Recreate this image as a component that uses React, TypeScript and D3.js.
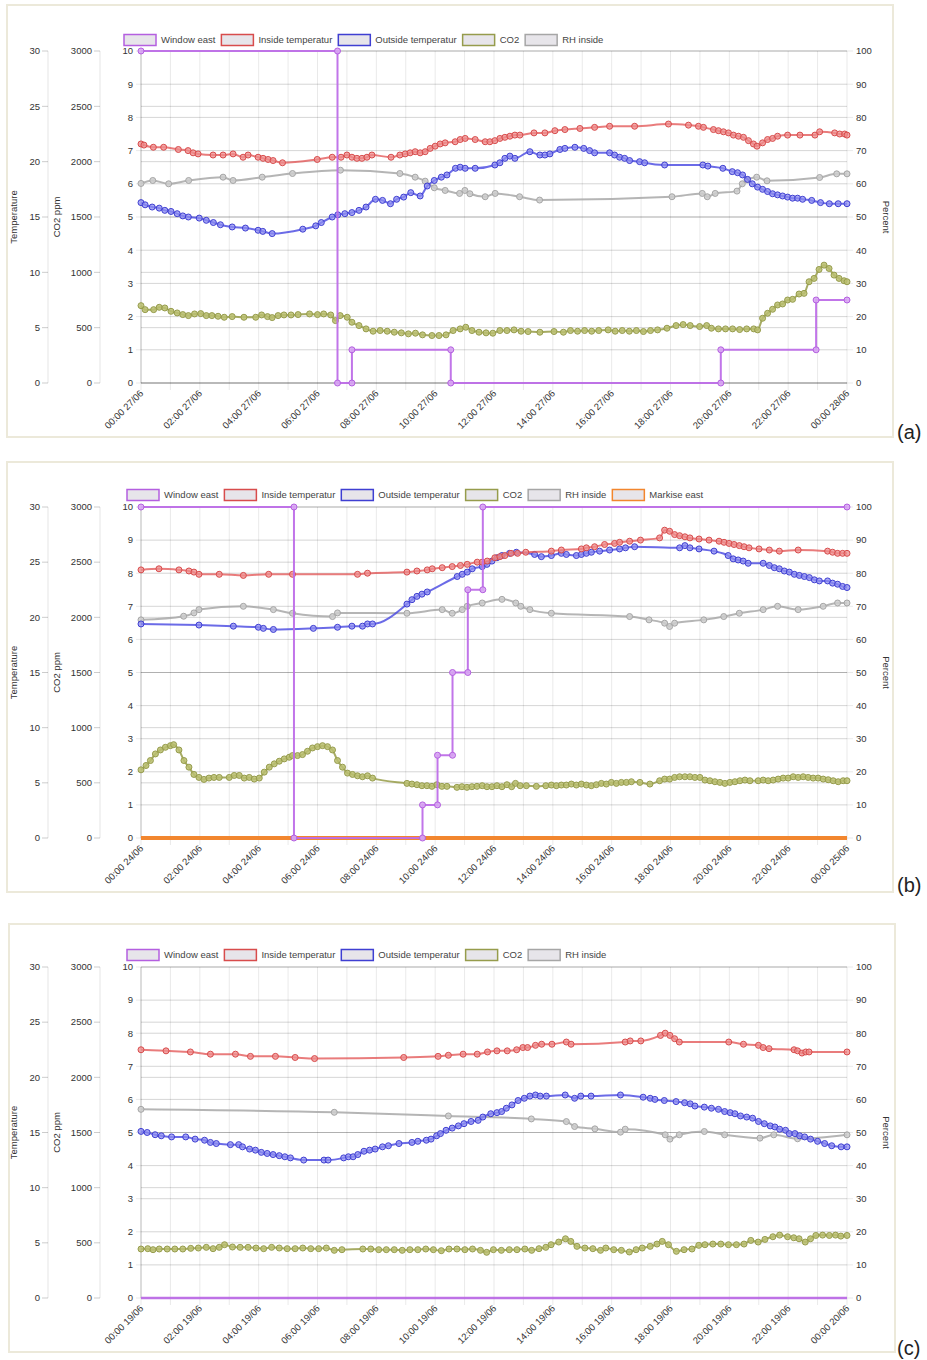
import React from 'react';
import * as d3 from 'd3';

type Pt = [number, number]; // [hour of day, value]

// ---------- (a) 27/06 ----------
const windowA: Pt[] = [[0, 100], [6.68, 100], [6.68, 0], [7.17, 0], [7.17, 10], [10.53, 10], [10.53, 0], [19.71, 0], [19.71, 10], [22.95, 10], [22.95, 25], [24, 25]];
const insideA: Pt[] = [[0, 21.6], [0.1, 21.5], [0.42, 21.3], [0.77, 21.3], [1.27, 21.1], [1.6, 21.0], [1.77, 20.8], [1.94, 20.7], [2.45, 20.6], [2.79, 20.6], [3.13, 20.7], [3.47, 20.4], [3.64, 20.6], [3.98, 20.4], [4.15, 20.3], [4.32, 20.2], [4.49, 20.1], [4.81, 19.9], [5.99, 20.2], [6.5, 20.4], [6.8, 20.4], [7.0, 20.6], [7.17, 20.4], [7.34, 20.3], [7.51, 20.3], [7.68, 20.4], [7.85, 20.6], [8.5, 20.4], [8.8, 20.6], [8.98, 20.7], [9.15, 20.8], [9.32, 20.9], [9.49, 20.8], [9.66, 20.9], [9.83, 21.2], [10.0, 21.4], [10.17, 21.6], [10.34, 21.7], [10.68, 21.8], [10.85, 22.0], [11.02, 22.1], [11.36, 22.0], [11.7, 21.8], [11.86, 21.8], [12.03, 21.9], [12.2, 22.1], [12.37, 22.2], [12.54, 22.3], [12.71, 22.4], [12.88, 22.4], [13.36, 22.6], [13.73, 22.6], [14.07, 22.8], [14.41, 22.9], [14.92, 23.0], [15.42, 23.1], [15.93, 23.2], [16.78, 23.2], [17.93, 23.4], [18.61, 23.3], [18.95, 23.2], [19.12, 23.1], [19.46, 22.9], [19.63, 22.8], [19.8, 22.7], [19.97, 22.6], [20.14, 22.4], [20.31, 22.3], [20.48, 22.2], [20.65, 21.9], [20.82, 21.6], [20.94, 21.4], [21.13, 21.7], [21.3, 22.0], [21.47, 22.1], [21.64, 22.3], [21.98, 22.4], [22.4, 22.4], [22.91, 22.4], [23.07, 22.7], [23.58, 22.6], [23.75, 22.5], [23.92, 22.5], [24, 22.4]];
const outsideA: Pt[] = [[0, 16.3], [0.14, 16.1], [0.38, 15.9], [0.62, 15.8], [0.81, 15.6], [1.02, 15.5], [1.23, 15.3], [1.42, 15.1], [1.61, 15.0], [1.98, 14.9], [2.22, 14.7], [2.46, 14.5], [2.7, 14.3], [3.1, 14.1], [3.55, 14.0], [3.98, 13.8], [4.14, 13.7], [4.46, 13.5], [5.5, 13.9], [5.94, 14.2], [6.13, 14.5], [6.5, 15.0], [6.69, 15.2], [6.93, 15.3], [7.17, 15.4], [7.41, 15.6], [7.65, 15.9], [7.97, 16.6], [8.21, 16.5], [8.48, 16.2], [8.69, 16.6], [8.93, 16.8], [9.17, 17.2], [9.49, 16.9], [9.73, 17.8], [9.97, 18.3], [10.21, 18.6], [10.4, 18.8], [10.69, 19.4], [10.85, 19.5], [11.02, 19.4], [11.36, 19.4], [12.03, 19.7], [12.2, 19.9], [12.37, 20.3], [12.54, 20.5], [12.71, 20.3], [13.22, 20.9], [13.56, 20.6], [13.73, 20.6], [13.9, 20.7], [14.24, 21.1], [14.41, 21.2], [14.75, 21.3], [15.05, 21.2], [15.25, 21.0], [15.42, 20.8], [15.93, 20.8], [16.1, 20.6], [16.27, 20.4], [16.44, 20.3], [16.61, 20.1], [16.95, 20.0], [17.12, 19.9], [17.8, 19.7], [19.1, 19.7], [19.27, 19.6], [19.78, 19.4], [20.1, 19.1], [20.28, 19.0], [20.45, 18.8], [20.62, 18.4], [20.78, 18.0], [20.96, 17.7], [21.13, 17.5], [21.3, 17.3], [21.47, 17.1], [21.64, 17.0], [21.81, 16.9], [21.98, 16.8], [22.15, 16.7], [22.32, 16.7], [22.49, 16.6], [22.8, 16.5], [23.1, 16.3], [23.4, 16.2], [23.7, 16.2], [24, 16.2]];
const co2A: Pt[] = [[0, 699], [0.14, 663], [0.43, 663], [0.62, 684], [0.81, 678], [1.02, 648], [1.23, 633], [1.42, 618], [1.61, 609], [1.82, 624], [2.03, 627], [2.22, 609], [2.41, 609], [2.62, 603], [2.83, 594], [3.1, 600], [3.5, 594], [3.9, 594], [4.1, 615], [4.3, 600], [4.46, 591], [4.66, 609], [4.86, 615], [5.1, 615], [5.34, 618], [5.73, 624], [6.0, 618], [6.21, 624], [6.45, 615], [6.61, 564], [6.77, 609], [7.01, 594], [7.17, 549], [7.41, 519], [7.65, 489], [7.89, 468], [8.13, 474], [8.37, 468], [8.61, 459], [8.85, 453], [9.09, 444], [9.33, 450], [9.57, 435], [9.89, 429], [10.13, 429], [10.37, 435], [10.61, 474], [10.85, 489], [11.04, 504], [11.25, 474], [11.49, 459], [11.73, 453], [11.96, 450], [12.2, 474], [12.44, 474], [12.68, 480], [12.92, 468], [13.16, 465], [13.56, 459], [14.04, 465], [14.36, 459], [14.6, 474], [14.84, 468], [15.08, 474], [15.32, 468], [15.56, 474], [15.88, 480], [16.12, 468], [16.36, 474], [16.6, 468], [16.84, 474], [17.08, 465], [17.32, 474], [17.56, 480], [17.88, 495], [18.19, 519], [18.43, 528], [18.67, 519], [18.99, 510], [19.23, 519], [19.39, 495], [19.63, 489], [19.87, 489], [20.11, 489], [20.35, 483], [20.59, 489], [20.83, 489], [20.96, 480], [21.13, 585], [21.3, 630], [21.47, 666], [21.64, 705], [21.81, 714], [21.98, 750], [22.15, 756], [22.37, 804], [22.54, 810], [22.71, 915], [22.88, 945], [23.05, 1026], [23.22, 1065], [23.39, 1035], [23.56, 975], [23.73, 945], [23.9, 924], [24, 915]];
const rhA: Pt[] = [[0, 60.1], [0.4, 61.0], [0.94, 60.0], [1.62, 61.0], [2.79, 62.0], [3.13, 61.0], [4.12, 62.0], [5.15, 63.1], [6.78, 64.1], [8.8, 63.1], [9.32, 62.0], [9.66, 60.8], [9.97, 58.8], [10.34, 58.0], [10.83, 57.1], [11.01, 58.0], [11.18, 57.0], [11.7, 56.1], [12.04, 57.1], [12.87, 56.1], [13.55, 55.1], [18.05, 56.1], [19.08, 57.1], [19.25, 56.1], [19.52, 57.1], [20.26, 57.8], [20.44, 60.0], [20.6, 61.2], [20.93, 62.0], [21.28, 60.9], [23.07, 61.9], [23.65, 63.0], [24, 63.0]];

// ---------- (b) 24/06 ----------
const windowB: Pt[] = [[0, 100], [5.2, 100], [5.2, 0], [9.57, 0], [9.57, 10], [10.08, 10], [10.08, 25], [10.59, 25], [10.59, 50], [11.11, 50], [11.11, 75], [11.62, 75], [11.62, 100], [24, 100]];
const insideB: Pt[] = [[0, 24.3], [0.61, 24.4], [1.29, 24.3], [1.63, 24.2], [1.8, 24.1], [1.97, 23.9], [2.66, 23.9], [3.48, 23.8], [4.34, 23.9], [5.15, 23.9], [7.36, 23.9], [7.7, 24.0], [9.04, 24.1], [9.38, 24.2], [9.73, 24.3], [9.9, 24.4], [10.24, 24.5], [10.58, 24.6], [10.86, 24.7], [11.09, 24.8], [11.43, 25.0], [11.6, 25.0], [11.77, 25.1], [12.03, 25.4], [12.2, 25.5], [12.37, 25.6], [12.58, 25.8], [12.8, 25.8], [13.08, 25.9], [13.95, 26.0], [14.29, 26.1], [14.97, 26.2], [15.14, 26.3], [15.42, 26.4], [15.76, 26.6], [16.1, 26.7], [16.27, 26.8], [16.61, 26.9], [16.98, 27.0], [17.63, 27.2], [17.8, 27.9], [17.97, 27.8], [18.14, 27.5], [18.31, 27.4], [18.49, 27.3], [18.66, 27.2], [18.97, 27.1], [19.31, 27.0], [19.65, 26.9], [19.82, 26.8], [19.99, 26.7], [20.16, 26.6], [20.34, 26.5], [20.5, 26.4], [20.67, 26.3], [21.01, 26.2], [21.36, 26.1], [21.7, 26.0], [22.34, 26.1], [23.34, 26.0], [23.51, 25.9], [23.68, 25.8], [23.85, 25.8], [24, 25.8]];
const outsideB: Pt[] = [[0, 19.4], [1.97, 19.3], [3.14, 19.2], [3.99, 19.1], [4.16, 19.0], [4.5, 18.9], [5.86, 19.0], [6.68, 19.1], [7.17, 19.2], [7.53, 19.2], [7.7, 19.4], [7.87, 19.4], [9.04, 21.2], [9.21, 21.6], [9.38, 21.9], [9.55, 22.1], [9.73, 22.3], [10.75, 23.7], [10.92, 23.9], [11.09, 24.1], [11.26, 24.4], [11.6, 24.6], [11.76, 24.8], [11.93, 25.1], [12.1, 25.4], [12.27, 25.6], [12.53, 25.8], [12.76, 25.9], [13.38, 25.7], [13.61, 25.5], [13.95, 25.6], [14.29, 25.8], [14.46, 25.7], [14.8, 25.6], [14.97, 25.7], [15.14, 25.8], [15.31, 25.9], [15.59, 26.0], [15.93, 26.1], [16.27, 26.2], [16.47, 26.3], [16.78, 26.4], [18.31, 26.3], [18.49, 26.5], [18.66, 26.3], [18.97, 26.2], [19.48, 26.0], [19.96, 25.6], [20.13, 25.3], [20.3, 25.2], [20.47, 25.1], [20.64, 24.9], [21.15, 24.9], [21.36, 24.7], [21.53, 24.5], [21.7, 24.4], [21.87, 24.2], [22.04, 24.1], [22.21, 23.9], [22.38, 23.8], [22.55, 23.7], [22.72, 23.6], [22.89, 23.4], [23.06, 23.3], [23.34, 23.3], [23.51, 23.1], [23.68, 23.0], [23.85, 22.8], [24, 22.7]];
const co2B: Pt[] = [[0, 618], [0.17, 657], [0.32, 702], [0.49, 762], [0.66, 798], [0.83, 822], [1.0, 837], [1.11, 846], [1.29, 798], [1.46, 702], [1.63, 642], [1.8, 576], [1.97, 549], [2.14, 531], [2.31, 543], [2.48, 549], [2.66, 549], [3.0, 549], [3.17, 567], [3.34, 567], [3.51, 543], [3.68, 549], [3.85, 534], [4.02, 543], [4.19, 597], [4.36, 642], [4.53, 672], [4.7, 696], [4.87, 717], [5.04, 732], [5.15, 747], [5.32, 747], [5.49, 756], [5.66, 786], [5.83, 816], [6.0, 828], [6.17, 837], [6.34, 828], [6.51, 798], [6.68, 702], [6.85, 642], [7.02, 588], [7.19, 576], [7.36, 564], [7.53, 555], [7.7, 564], [7.87, 543], [9.04, 495], [9.21, 489], [9.38, 483], [9.55, 474], [9.72, 474], [9.89, 468], [10.06, 483], [10.23, 468], [10.4, 468], [10.74, 459], [10.91, 465], [11.08, 459], [11.25, 465], [11.42, 468], [11.6, 474], [11.76, 465], [11.93, 465], [12.1, 474], [12.27, 465], [12.44, 483], [12.6, 465], [12.73, 495], [12.89, 474], [13.1, 474], [13.44, 468], [13.76, 474], [13.95, 480], [14.12, 474], [14.29, 480], [14.46, 480], [14.63, 489], [14.8, 480], [14.97, 489], [15.14, 480], [15.31, 474], [15.48, 483], [15.65, 495], [15.82, 489], [15.99, 504], [16.16, 495], [16.33, 504], [16.5, 504], [16.67, 510], [16.96, 504], [17.3, 489], [17.63, 519], [17.8, 534], [17.97, 534], [18.14, 549], [18.31, 555], [18.49, 555], [18.66, 555], [18.83, 549], [19.0, 549], [19.17, 525], [19.34, 519], [19.51, 510], [19.68, 504], [19.85, 495], [20.02, 504], [20.19, 510], [20.36, 519], [20.53, 525], [20.7, 519], [20.98, 519], [21.15, 525], [21.32, 519], [21.49, 525], [21.66, 534], [21.83, 543], [22.0, 543], [22.17, 555], [22.34, 549], [22.51, 555], [22.68, 549], [22.85, 543], [23.02, 543], [23.19, 534], [23.36, 528], [23.53, 519], [23.7, 510], [23.87, 519], [24, 519]];
const rhB: Pt[] = [[0, 65.9], [1.45, 67.0], [1.8, 68.0], [1.97, 69.0], [3.48, 70.0], [4.5, 69.0], [5.15, 67.9], [6.51, 66.9], [6.68, 68.0], [9.04, 67.9], [10.24, 69.0], [10.58, 67.9], [10.92, 69.0], [11.09, 70.0], [11.6, 71.0], [12.27, 72.1], [12.74, 71.0], [12.91, 70.0], [13.22, 69.0], [13.95, 67.9], [16.61, 66.9], [17.27, 65.9], [17.8, 64.9], [17.97, 63.9], [18.14, 64.9], [19.13, 65.9], [19.81, 66.9], [20.34, 67.9], [21.15, 69.0], [21.64, 70.0], [22.34, 69.0], [23.19, 70.0], [23.68, 71.0], [24, 71.0]];
const markiseB: Pt[] = [[0, 0], [24, 0]];

// ---------- (c) 19/06 ----------
const windowC: Pt[] = [[0, 0], [24, 0]];
const insideC: Pt[] = [[0, 22.5], [0.85, 22.4], [1.68, 22.3], [2.36, 22.1], [3.21, 22.1], [3.72, 21.9], [4.57, 21.9], [5.24, 21.8], [5.9, 21.7], [8.93, 21.8], [10.1, 21.9], [10.45, 22.0], [10.95, 22.1], [11.43, 22.1], [11.78, 22.3], [12.1, 22.4], [12.45, 22.4], [12.77, 22.5], [12.98, 22.7], [13.14, 22.7], [13.41, 22.9], [13.62, 23.0], [13.97, 23.0], [14.46, 23.2], [14.62, 23.0], [16.46, 23.2], [16.63, 23.3], [16.99, 23.3], [17.66, 23.8], [17.82, 24.0], [17.98, 23.8], [18.14, 23.5], [18.3, 23.2], [19.98, 23.2], [20.48, 23.0], [20.99, 22.9], [21.15, 22.7], [21.35, 22.6], [22.2, 22.5], [22.32, 22.4], [22.47, 22.2], [22.6, 22.3], [22.71, 22.3], [24, 22.3]];
const outsideC: Pt[] = [[0, 15.1], [0.21, 15.0], [0.48, 14.8], [0.69, 14.7], [1.04, 14.6], [1.52, 14.6], [1.84, 14.4], [2.16, 14.3], [2.36, 14.1], [2.56, 14.0], [3.04, 13.9], [3.32, 13.9], [3.45, 13.7], [3.69, 13.5], [3.89, 13.4], [4.09, 13.2], [4.29, 13.1], [4.49, 13.0], [4.7, 12.9], [4.89, 12.8], [5.08, 12.7], [5.53, 12.5], [6.22, 12.5], [6.36, 12.5], [6.89, 12.7], [7.05, 12.8], [7.21, 12.8], [7.37, 13.0], [7.58, 13.3], [7.77, 13.4], [7.96, 13.5], [8.21, 13.7], [8.41, 13.8], [8.77, 14.0], [9.21, 14.1], [9.41, 14.2], [9.7, 14.3], [9.86, 14.4], [10.05, 14.7], [10.18, 14.9], [10.37, 15.2], [10.58, 15.4], [10.79, 15.6], [10.98, 15.8], [11.22, 16.0], [11.46, 16.1], [11.62, 16.4], [11.89, 16.7], [12.1, 16.8], [12.26, 16.9], [12.42, 17.2], [12.61, 17.5], [12.82, 17.9], [13.03, 18.1], [13.22, 18.3], [13.41, 18.4], [13.57, 18.3], [13.78, 18.3], [14.42, 18.4], [14.74, 18.1], [14.95, 18.3], [15.3, 18.3], [16.3, 18.4], [17.07, 18.2], [17.31, 18.1], [17.47, 18.0], [17.79, 17.9], [18.19, 17.8], [18.48, 17.7], [18.67, 17.6], [18.83, 17.4], [19.15, 17.3], [19.39, 17.2], [19.63, 17.1], [19.84, 16.9], [20.03, 16.8], [20.19, 16.7], [20.38, 16.5], [20.59, 16.4], [20.79, 16.3], [20.99, 16.0], [21.19, 15.8], [21.39, 15.6], [21.55, 15.5], [21.71, 15.3], [21.91, 15.2], [22.04, 14.9], [22.23, 14.9], [22.39, 14.7], [22.56, 14.6], [22.76, 14.4], [23.0, 14.2], [23.24, 14.0], [23.48, 13.8], [23.8, 13.7], [24, 13.7]];
const co2C: Pt[] = [[0, 444], [0.23, 447], [0.41, 438], [0.62, 444], [0.89, 444], [1.15, 444], [1.42, 444], [1.69, 450], [1.95, 453], [2.22, 459], [2.45, 447], [2.66, 459], [2.84, 483], [3.11, 462], [3.37, 459], [3.64, 459], [3.91, 453], [4.17, 447], [4.44, 459], [4.7, 453], [4.97, 447], [5.24, 447], [5.5, 453], [5.77, 447], [6.04, 447], [6.3, 453], [6.57, 432], [6.83, 438], [7.54, 444], [7.81, 444], [8.08, 438], [8.34, 438], [8.61, 438], [8.88, 432], [9.14, 438], [9.41, 438], [9.68, 444], [9.94, 438], [10.21, 429], [10.47, 444], [10.74, 444], [11.01, 438], [11.27, 444], [11.54, 432], [11.75, 414], [11.98, 438], [12.25, 432], [12.52, 438], [12.78, 438], [13.05, 444], [13.28, 432], [13.53, 447], [13.76, 459], [13.94, 483], [14.2, 507], [14.43, 537], [14.61, 513], [14.82, 468], [15.09, 453], [15.36, 447], [15.62, 432], [15.8, 453], [16.07, 438], [16.33, 432], [16.6, 417], [16.83, 438], [17.04, 453], [17.31, 468], [17.54, 489], [17.72, 513], [17.93, 483], [18.2, 423], [18.46, 438], [18.73, 444], [18.96, 477], [19.17, 483], [19.44, 489], [19.71, 489], [19.97, 483], [20.24, 483], [20.5, 489], [20.73, 522], [20.98, 507], [21.21, 531], [21.48, 555], [21.71, 570], [21.98, 555], [22.19, 546], [22.37, 537], [22.58, 507], [22.76, 537], [22.94, 567], [23.17, 570], [23.4, 567], [23.61, 570], [23.79, 561], [24, 567]];
const rhC: Pt[] = [[0, 57.0], [6.57, 56.1], [10.45, 55.0], [13.27, 54.1], [14.46, 53.3], [14.74, 51.8], [15.43, 51.1], [16.3, 50.1], [16.46, 51.0], [17.82, 49.3], [17.98, 48.0], [18.3, 49.3], [19.15, 50.3], [19.84, 49.3], [21.04, 48.3], [21.51, 49.3], [22.32, 48.1], [24, 49.3]];

// ---------- axes ----------
const tempTicks = [0, 5, 10, 15, 20, 25, 30];
const co2Ticks = [0, 500, 1000, 1500, 2000, 2500, 3000];
const midTicks = [0, 1, 2, 3, 4, 5, 6, 7, 8, 9, 10];
const pctTicks = [0, 10, 20, 30, 40, 50, 60, 70, 80, 90, 100];
const hourTicks = [0, 2, 4, 6, 8, 10, 12, 14, 16, 18, 20, 22, 24];

type AxisKey = 'temp' | 'co2' | 'pct';
interface Series {
  label: string;
  data: Pt[];
  axis: AxisKey;
  line: string;
  dot: string;
  fill: string;
  width: number;
  dots: boolean;
  smooth: boolean;
}

const STYLE = {
  window: { line: 'rgba(190,110,232,0.95)', dot: '#b45fe0', fill: 'rgba(215,165,242,0.9)' },
  inside: { line: 'rgba(225,80,80,0.75)', dot: '#d84c4c', fill: 'rgba(238,140,140,0.75)' },
  outside: { line: 'rgba(70,70,225,0.8)', dot: '#3f3fd2', fill: 'rgba(140,140,240,0.75)' },
  co2: { line: 'rgba(150,156,72,0.85)', dot: '#969c4c', fill: 'rgba(186,190,112,0.85)' },
  rh: { line: 'rgba(168,168,168,0.85)', dot: '#a6a6a6', fill: 'rgba(204,204,204,0.85)' },
  markise: { line: '#f2862e', dot: '#f2862e', fill: '#f2862e' },
};

const mk = (label: string, data: Pt[], axis: AxisKey, key: keyof typeof STYLE, dots = true, smooth = true, width = 2): Series => ({
  label, data, axis, ...STYLE[key], width, dots, smooth,
});

const FONT = '"Liberation Sans", Arial, sans-serif';
const FS = 9.5;

let ctx: CanvasRenderingContext2D | null = null;
const textW = (s: string) => {
  if (!ctx && typeof document !== 'undefined') ctx = document.createElement('canvas').getContext('2d');
  if (!ctx) return s.length * 5;
  ctx.font = `${FS}px ${FONT}`;
  return ctx.measureText(s).width;
};

const X0 = 141;
const X1 = 847;

interface PanelProps {
  box: [number, number, number, number];
  legendX: number;
  legendY: number;
  plotTop: number;
  plotBottom: number;
  tag: string;
  tagY: number;
  day: string;
  nextDay: string;
  series: Series[];
}

const Panel: React.FC<PanelProps> = ({ box, legendX, legendY, plotTop, plotBottom, tag, tagY, day, nextDay, series }) => {
  const x = d3.scaleLinear().domain([0, 24]).range([X0, X1]);
  const yOf = (max: number) => d3.scaleLinear().domain([0, max]).range([plotBottom, plotTop]);
  const yMid = yOf(10);
  const scales: Record<AxisKey, d3.ScaleLinear<number, number>> = { temp: yOf(30), co2: yOf(3000), pct: yOf(100) };
  const cy = (plotTop + plotBottom) / 2;
  const grid = 'rgba(0,0,0,0.085)';
  const hh = d3.format('02d');

  // legend layout
  let lx = legendX;
  const legendItems = series.map((s) => {
    const item = { s, x: lx };
    lx += 32 + 5 + textW(s.label) + 6;
    return item;
  });

  return (
    <g>
      <rect x={box[0]} y={box[1]} width={box[2]} height={box[3]} fill="#fff" stroke="#ece9da" strokeWidth={2} />

      {/* grid */}
      {d3.range(0, 25).map((h) => (
        <line key={'v' + h} x1={x(h)} x2={x(h)} y1={plotTop} y2={plotBottom + 7} stroke={grid} />
      ))}
      {midTicks.map((v) => (
        <line key={'m' + v} x1={X0 - 5} x2={X1} y1={yMid(v)} y2={yMid(v)} stroke={grid} />
      ))}
      {pctTicks.map((v) => (
        <line key={'p' + v} x1={X0} x2={X1 + 6} y1={scales.pct(v)} y2={scales.pct(v)} stroke={grid} />
      ))}
      {tempTicks.map((v) => (
        <line key={'t' + v} x1={X0} x2={X1} y1={scales.temp(v)} y2={scales.temp(v)} stroke={grid} />
      ))}
      {co2Ticks.map((v) => (
        <line key={'c' + v} x1={X0} x2={X1} y1={scales.co2(v)} y2={scales.co2(v)} stroke={grid} />
      ))}
      <line x1={X0} x2={X1} y1={plotBottom} y2={plotBottom} stroke="rgba(0,0,0,0.25)" />
      <line x1={X0} x2={X0} y1={plotTop} y2={plotBottom} stroke="rgba(0,0,0,0.2)" />

      {/* temperature axis */}
      <line x1={48} x2={48} y1={plotTop} y2={plotBottom} stroke="rgba(0,0,0,0.1)" />
      {tempTicks.map((v) => (
        <g key={'ta' + v}>
          <line x1={42} x2={48} y1={scales.temp(v)} y2={scales.temp(v)} stroke="rgba(0,0,0,0.2)" />
          <text x={40} y={scales.temp(v)} dy="0.35em" textAnchor="end">{v}</text>
        </g>
      ))}
      <text transform={`translate(17,${cy}) rotate(-90)`} textAnchor="middle">Temperature</text>

      {/* CO2 axis */}
      <line x1={100} x2={100} y1={plotTop} y2={plotBottom} stroke="rgba(0,0,0,0.1)" />
      {co2Ticks.map((v) => (
        <g key={'ca' + v}>
          <line x1={94} x2={100} y1={scales.co2(v)} y2={scales.co2(v)} stroke="rgba(0,0,0,0.2)" />
          <text x={92} y={scales.co2(v)} dy="0.35em" textAnchor="end">{v}</text>
        </g>
      ))}
      <text transform={`translate(60,${cy}) rotate(-90)`} textAnchor="middle">CO2 ppm</text>

      {/* middle axis */}
      {midTicks.map((v) => (
        <text key={'ma' + v} x={133} y={yMid(v)} dy="0.35em" textAnchor="end">{v}</text>
      ))}

      {/* percent axis */}
      {pctTicks.map((v) => (
        <text key={'pa' + v} x={856} y={scales.pct(v)} dy="0.35em">{v}</text>
      ))}
      <text transform={`translate(883,${cy}) rotate(90)`} textAnchor="middle">Percent</text>

      {/* x labels */}
      {hourTicks.map((h) => (
        <text key={'xl' + h} transform={`translate(${x(h) + 3},${plotBottom + 11}) rotate(-45)`} textAnchor="end">
          {`${hh(h % 24)}:00 ${h === 24 ? nextDay : day}`}
        </text>
      ))}

      {/* series, first dataset on top */}
      {series.slice().reverse().map((s) => {
        const sy = scales[s.axis];
        const path = d3.line<Pt>()
          .x((d) => x(d[0]))
          .y((d) => sy(d[1]))
          .curve(s.smooth ? d3.curveMonotoneX : d3.curveLinear)(s.data) || '';
        return (
          <g key={s.label}>
            <path d={path} fill="none" stroke={s.line} strokeWidth={s.width} />
            {s.dots && s.data.map((d, i) => (
              <circle key={i} cx={x(d[0])} cy={sy(d[1])} r={3} fill={s.fill} stroke={s.dot} strokeWidth={1} />
            ))}
          </g>
        );
      })}

      {/* legend */}
      {legendItems.map(({ s, x: ix }) => (
        <g key={'lg' + s.label}>
          <rect x={ix} y={legendY - 5.5} width={32} height={11} fill="#e7e5ea" stroke={s.dot} strokeWidth={1.5} />
          <text x={ix + 37} y={legendY} dy="0.35em" fill="#444">{s.label}</text>
        </g>
      ))}

      <text x={897} y={tagY} fontSize={20} fill="#222">{tag}</text>
    </g>
  );
};

const seriesA: Series[] = [
  mk('Window east', windowA, 'pct', 'window', true, false),
  mk('Inside temperatur', insideA, 'temp', 'inside'),
  mk('Outside temperatur', outsideA, 'temp', 'outside'),
  mk('CO2', co2A, 'co2', 'co2'),
  mk('RH inside', rhA, 'pct', 'rh'),
];
const seriesB: Series[] = [
  mk('Window east', windowB, 'pct', 'window', true, false),
  mk('Inside temperatur', insideB, 'temp', 'inside'),
  mk('Outside temperatur', outsideB, 'temp', 'outside'),
  mk('CO2', co2B, 'co2', 'co2'),
  mk('RH inside', rhB, 'pct', 'rh'),
  mk('Markise east', markiseB, 'pct', 'markise', false, false, 4),
];
const seriesC: Series[] = [
  mk('Window east', windowC, 'pct', 'window', false, false, 2.5),
  mk('Inside temperatur', insideC, 'temp', 'inside'),
  mk('Outside temperatur', outsideC, 'temp', 'outside'),
  mk('CO2', co2C, 'co2', 'co2'),
  mk('RH inside', rhC, 'pct', 'rh'),
];

export default function App() {
  return (
    <div style={{ position: 'absolute', left: 0, top: 0 }}>
      <svg width={927} height={1360} style={{ display: 'block', fontFamily: FONT, fontSize: FS, fill: '#333' }}>
        <rect width={927} height={1360} fill="#fff" />
        <Panel box={[7, 5, 886, 432]} legendX={124} legendY={40} plotTop={51} plotBottom={383}
          tag="(a)" tagY={439} day="27/06" nextDay="28/06" series={seriesA} />
        <Panel box={[7, 462, 886, 430]} legendX={127} legendY={495} plotTop={507} plotBottom={838}
          tag="(b)" tagY={892} day="24/06" nextDay="25/06" series={seriesB} />
        <Panel box={[9, 924, 886, 428]} legendX={127} legendY={955} plotTop={967} plotBottom={1298}
          tag="(c)" tagY={1355} day="19/06" nextDay="20/06" series={seriesC} />
      </svg>
    </div>
  );
}
